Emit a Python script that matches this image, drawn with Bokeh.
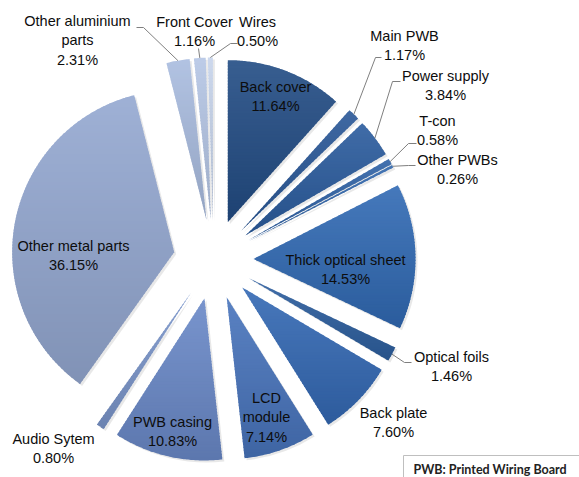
import math
from bokeh.plotting import figure
from bokeh.models import Range1d
from bokeh.core.properties import value
from bokeh.embed import file_html
from bokeh.resources import INLINE

# ---------------- data ----------------
categories = ["Back cover", "Main PWB", "Power supply", "T-con", "Other PWBs",
              "Thick optical sheet", "Optical foils", "Back plate", "LCD\nmodule",
              "PWB casing", "Audio Sytem", "Other metal parts",
              "Other aluminium\nparts", "Front Cover", "Wires"]
shares = [11.64, 1.17, 3.84, 0.58, 0.26, 14.53, 1.46, 7.60, 7.14,
          10.83, 0.80, 36.15, 2.31, 1.16, 0.50]
note_text = "PWB: Printed Wiring Board"

# ---------------- style / layout ----------------
colors = ["#224C84", "#2A5898", "#2B5C9E", "#2F62A6", "#3066AC",
          "#316AB4", "#2D5F9F", "#3469B4", "#4874BC", "#6A89C8",
          "#7B96CB", "#94A8D1", "#A9BCDF", "#B5C6E5", "#C7D4EB"]
W, H = 579, 477
CX, CY = 213, 259          # pie centre (screen px)
R = 162                    # radius
EXPLODE = 40               # explosion offset
BAND = 3                   # gradient band height (px)

def Y(ys):                 # screen y -> data y
    return H - ys

def hex2rgb(h):
    return tuple(int(h[i:i + 2], 16) for i in (1, 3, 5))

def mix(c1, c2, t):
    return tuple(a + (b - a) * t for a, b in zip(c1, c2))

def rgb2hex(c):
    return "#%02x%02x%02x" % tuple(max(0, min(255, int(round(v)))) for v in c)

def clip(poly, yv, keep_above):
    out = []
    n = len(poly)
    for i in range(n):
        P, Q = poly[i], poly[(i + 1) % n]
        pin = P[1] >= yv if keep_above else P[1] <= yv
        qin = Q[1] >= yv if keep_above else Q[1] <= yv
        if pin:
            out.append(P)
        if pin != qin:
            t = (yv - P[1]) / (Q[1] - P[1])
            out.append((P[0] + t * (Q[0] - P[0]), yv))
    return out

# label block centres (screen px)
label_pos = [(275, 96), (404, 45), (445, 85), (437, 130), (457, 169),
             (345, 269), (451, 366), (393, 422), (266, 417), (172, 431),
             (53, 448), (73, 255), (77, 40), (194, 31), (257, 31)]
# leader: (anchor near label, elbow) or None
leaders = [None, ((381, 57), (375, 57)), ((400, 81), (392, 81)),
           ((416, 143), (408, 143)), ((415, 165), (408, 165)),
           None, ((411, 362), (404, 362)), None, None, None, None, None,
           ((136, 27), (143, 27)), ((198, 48), (198, 48)), ((237, 43), (230, 43))]

p = figure(width=W, height=H, output_backend="svg", toolbar_location=None,
           x_range=Range1d(0, W), y_range=Range1d(0, H),
           x_axis_type=None, y_axis_type=None, min_border=0)
p.outline_line_color = None
p.grid.visible = False
p.background_fill_color = "white"

total = sum(shares)
cum = 0.0
ax, ay, sa, ea, mids = [], [], [], [], []
bx, by, bc = [], [], []
for v, col in zip(shares, colors):
    t1 = cum / total * 360.0
    cum += v
    t2 = cum / total * 360.0
    tm = math.radians((t1 + t2) / 2)
    cx = CX + EXPLODE * math.sin(tm)
    cy = Y(CY - EXPLODE * math.cos(tm))
    ax.append(cx)
    ay.append(cy)
    sa.append(math.radians(90 - t2))
    ea.append(math.radians(90 - t1))
    mids.append(tm)
    # polygon of the slice (data coords)
    nseg = max(2, int((t2 - t1) / 0.5))
    poly = [(cx, cy)] + [(cx + R * math.sin(math.radians(t1 + (t2 - t1) * k / nseg)),
                          cy + R * math.cos(math.radians(t1 + (t2 - t1) * k / nseg)))
                         for k in range(nseg + 1)]
    ymin = min(q[1] for q in poly)
    ymax = max(q[1] for q in poly)
    base = hex2rgb(col)
    top_c = mix(base, (255, 255, 255), 0.10)
    bot_c = mix(base, (0, 0, 0), 0.13)
    yb = ymax
    while yb > ymin:
        lo = max(ymin, yb - BAND)
        part = clip(clip(poly, lo - 0.6, True), yb + 0.6, False)
        if len(part) >= 3:
            t = (ymax - (yb + lo) / 2) / max(1e-6, (ymax - ymin))
            bx.append([q[0] for q in part])
            by.append([q[1] for q in part])
            bc.append(rgb2hex(mix(top_c, bot_c, t)))
        yb = lo

# soft shadow
p.wedge(x=[a + 2 for a in ax], y=[b - 2 for b in ay], radius=R, start_angle=sa, end_angle=ea,
        fill_color="#000000", fill_alpha=0.09, line_color=None)
# slices with vertical gradient
p.patches(xs=bx, ys=by, fill_color=bc, line_color=None)

# leader lines
xs, ys = [], []
for i, ld in enumerate(leaders):
    if ld is None:
        continue
    (lx, ly), (ex, ey) = ld
    ox = ax[i] + R * math.sin(mids[i])
    oy = ay[i] + R * math.cos(mids[i])
    xs.append([lx, ex, ox])
    ys.append([Y(ly), Y(ey), oy])
p.multi_line(xs=xs, ys=ys, line_color="#7F7F7F", line_width=1)

texts = [f"{c}\n{v:.2f}%" for c, v in zip(categories, shares)]
p.text(x=[q[0] for q in label_pos], y=[Y(q[1]) for q in label_pos], text=texts,
       text_align="center", text_baseline="middle", text_font=value("Liberation Sans"),
       text_font_size="14.5px", text_color="#0d0d0d", text_line_height=1.2)

# note box
p.quad(left=[403], right=[600], top=[Y(455)], bottom=[Y(495)],
       fill_color="white", line_color="#BFBFBF", line_width=1)
p.text(x=[413], y=[Y(469)], text=[note_text], text_align="left", text_baseline="middle",
       text_font=value("Lato"), text_font_style="bold", text_font_size="12.5px",
       text_color="#222222")

open("out.html", "w").write(file_html(p, INLINE))
